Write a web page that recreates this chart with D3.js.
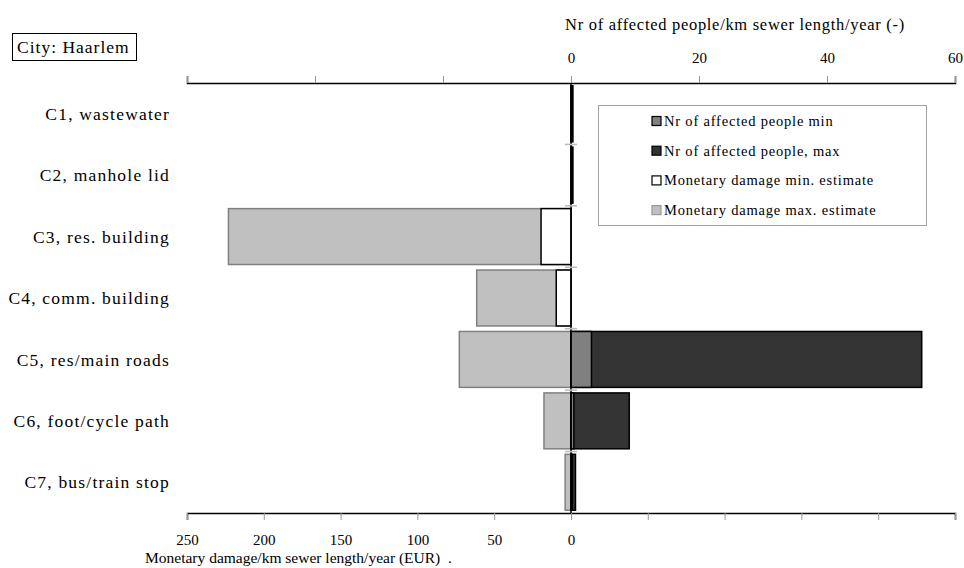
<!DOCTYPE html>
<html lang="en">
<head>
    <meta charset="UTF-8">
    <title>Haarlem sewer failure consequences</title>
    <script src="https://d3js.org/d3.v7.min.js"></script>
    <style>
        body { margin: 0; background: #fff; }
        text { font-family: "Liberation Serif", "DejaVu Serif", serif; fill: #000; }
        .axis .domain { stroke: #000; stroke-width: 1.5; }
        .axis .tick line { stroke: #999; }
        .axis .tick text { font-size: 15px; }
    </style>
</head>
<body>
    <svg id="chart" width="964" height="568"></svg>
    <script>
        // data
        const categories = ["C1, wastewater", "C2, manhole lid", "C3, res. building", "C4, comm. building",
            "C5, res/main roads", "C6, foot/cycle path", "C7, bus/train stop"];
        const peopleMin = [0.2, 0.2, 0, 0, 3.2, 0.45, 0.2];
        const peopleMax = [0.3, 0.3, 0, 0, 54.8, 9.1, 0.7];
        const moneyMin = [0, 0, 19.5, 9.6, 0, 0, 0];
        const moneyMax = [0, 0, 223, 61.4, 72.7, 17.6, 3.8];
        const peopleTicks = [-60, -40, -20, 0, 20, 40, 60];
        const moneyTicks = [-250, -200, -150, -100, -50, 0, 50, 100, 150, 200, 250];
        const legendNames = ["Nr of affected people min", "Nr of affected people, max",
            "Monetary damage min. estimate", "Monetary damage max. estimate"];

        const svg = d3.select("#chart");
        const plotTop = 83, plotBottom = 513, plotLeft = 187, plotRight = 955;

        const y = d3.scaleBand().domain(categories).range([plotTop, plotBottom])
            .paddingInner(0.09).paddingOuter(0.045);
        const xPeople = d3.scaleLinear().domain([-60, 60]).range([plotLeft, plotRight]);
        const xMoney = d3.scaleLinear().domain([-250, 250]).range([plotLeft, plotRight]);

        // axes
        svg.append("g").attr("class", "axis")
            .attr("transform", `translate(0,${plotTop})`)
            .call(d3.axisTop(xPeople).tickValues(peopleTicks).tickSize(7).tickPadding(13)
                .tickFormat(d => d >= 0 ? d : ""));

        svg.append("g").attr("class", "axis")
            .attr("transform", `translate(0,${plotBottom})`)
            .call(d3.axisBottom(xMoney).tickValues(moneyTicks).tickSize(7).tickPadding(14)
                .tickFormat(d => d <= 0 ? Math.abs(d) : ""));

        // bars: monetary to the left, people to the right
        const series = [
            { vals: moneyMax, x: xMoney, dir: -1, fill: "#c0c0c0", stroke: "#808080" },
            { vals: moneyMin, x: xMoney, dir: -1, fill: "#ffffff", stroke: "#000" },
            { vals: peopleMax, x: xPeople, dir: 1, fill: "#333333", stroke: "#000" },
            { vals: peopleMin, x: xPeople, dir: 1, fill: "#808080", stroke: "#000" }
        ];
        series.forEach(s => {
            svg.append("g").selectAll("rect")
                .data(categories.map((c, i) => ({ c, v: s.vals[i] })).filter(d => d.v > 0))
                .join("rect")
                .attr("x", d => s.dir < 0 ? s.x(-d.v) : s.x(0))
                .attr("y", d => y(d.c))
                .attr("width", d => Math.abs(s.x(d.v) - s.x(0)))
                .attr("height", y.bandwidth())
                .attr("fill", s.fill)
                .attr("stroke", s.stroke)
                .attr("stroke-width", 1.5);
        });

        // zero line and category ticks
        const x0 = xPeople(0);
        svg.append("line").attr("x1", x0).attr("x2", x0).attr("y1", plotTop).attr("y2", plotBottom)
            .attr("stroke", "#000").attr("stroke-width", 1.5);
        svg.append("g").selectAll("line")
            .data(d3.range(1, categories.length))
            .join("line")
            .attr("x1", x0 - 6).attr("x2", x0 + 6)
            .attr("y1", i => plotTop + i * (plotBottom - plotTop) / categories.length)
            .attr("y2", i => plotTop + i * (plotBottom - plotTop) / categories.length)
            .attr("stroke", "#bbb").attr("stroke-width", 1.5);

        // category labels
        svg.append("g").selectAll("text")
            .data(categories)
            .join("text")
            .attr("x", 170)
            .attr("y", d => y(d) + y.bandwidth() / 2)
            .attr("dy", "0.35em")
            .attr("text-anchor", "end")
            .style("font-size", "17.5px")
            .style("letter-spacing", "1.2px")
            .text(d => d);

        // axis titles
        svg.append("text").attr("x", 735).attr("y", 30).attr("text-anchor", "middle")
            .style("font-size", "16.5px").style("letter-spacing", "0.7px")
            .text("Nr of affected people/km sewer length/year (-)");
        svg.append("text").attr("x", 145).attr("y", 563)
            .style("font-size", "15.5px").style("white-space", "pre")
            .text("Monetary damage/km sewer length/year (EUR)  .");

        // city box
        svg.append("rect").attr("x", 12.5).attr("y", 33.5).attr("width", 124).attr("height", 27)
            .attr("fill", "#fff").attr("stroke", "#000").attr("stroke-width", 1);
        svg.append("text").attr("x", 17).attr("y", 53)
            .style("font-size", "17.5px").style("letter-spacing", "1px").text("City: Haarlem");

        // legend
        const legend = svg.append("g");
        legend.append("rect").attr("x", 598.5).attr("y", 105.5).attr("width", 328).attr("height", 120)
            .attr("fill", "#fff").attr("stroke", "#a0a0a0");
        const legendStyle = [series[3], series[2], series[1], series[0]];
        legendNames.forEach((name, i) => {
            const ly = 121 + i * 29.7;
            legend.append("rect").attr("x", 652).attr("y", ly - 4.5).attr("width", 9).attr("height", 9)
                .attr("fill", legendStyle[i].fill).attr("stroke", legendStyle[i].stroke === "#808080" ? "#999" : "#000")
                .attr("stroke-width", 1.2);
            legend.append("text").attr("x", 664).attr("y", ly).attr("dy", "0.35em")
                .style("font-size", "14.5px").style("letter-spacing", "0.8px").text(name);
        });
    </script>
</body>
</html>
